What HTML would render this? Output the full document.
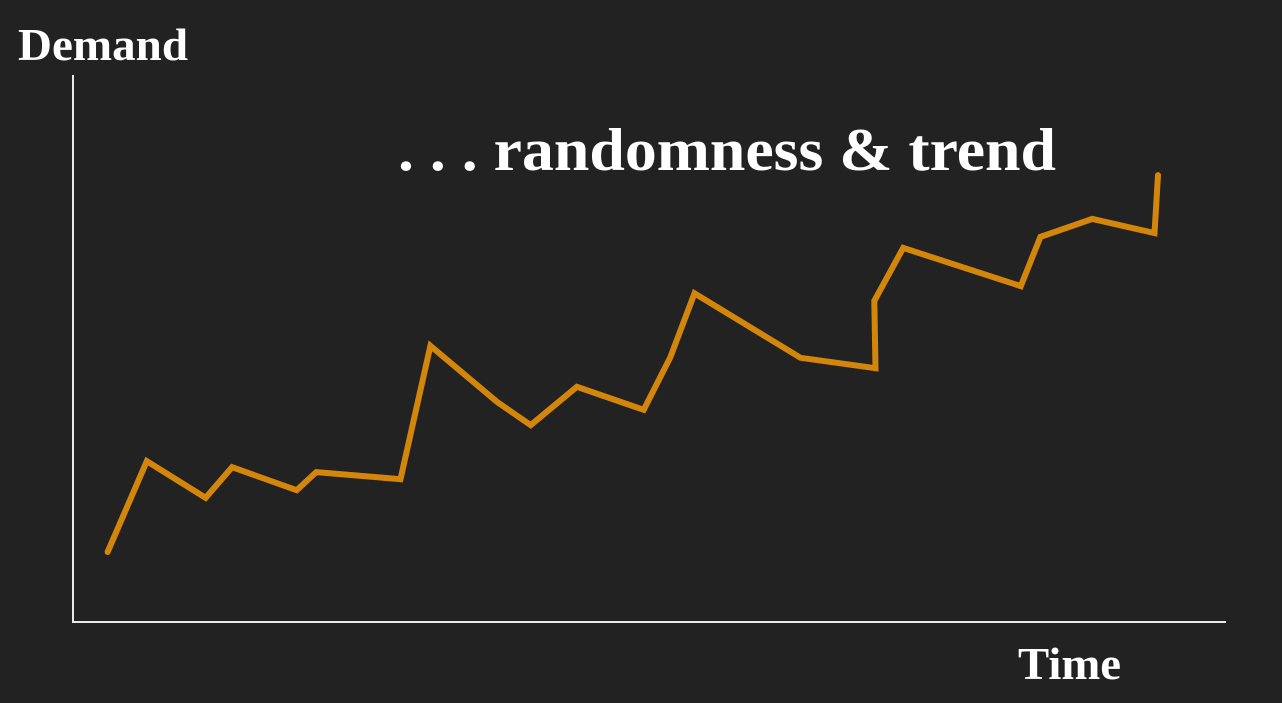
<!DOCTYPE html>
<html><head><meta charset="utf-8"><style>
html,body{margin:0;padding:0;background:#222222;}
svg{display:block;}
text{font-family:"Liberation Serif",serif;font-weight:bold;fill:#ffffff;}
</style></head><body>
<svg id="chart" width="1282" height="703">
<rect width="1282" height="703" fill="#222222"/>
<line x1="73" y1="75" x2="73" y2="622" stroke="#e8e8e8" stroke-width="2"/>
<line x1="72" y1="622" x2="1226" y2="622" stroke="#e8e8e8" stroke-width="2"/>
<text x="18" y="60" font-size="45" textLength="170" lengthAdjust="spacingAndGlyphs">Demand</text>
<text x="1018" y="679" font-size="45" textLength="103" lengthAdjust="spacingAndGlyphs">Time</text>
<text x="398" y="170" font-size="60" textLength="658" lengthAdjust="spacingAndGlyphs">. . . randomness &amp; trend</text>
<g id="series"></g>
</svg>
<script>
const times = [3.0,6.4,11.5,13.8,19.4,21.1,28.4,31.0,36.8,39.7,43.7,49.5,51.8,53.9,63.1,69.6,69.5,72.0,82.2,83.9,88.4,93.8,94.1];
const demand = [12.8,29.4,22.7,28.3,24.1,27.4,26.1,50.5,40.2,36.0,43.0,38.8,48.4,60.1,48.3,46.4,58.7,68.4,61.4,70.4,73.7,71.1,81.7];
function xScale(t){return 73 + t*11.53;}
function yScale(d){return 622 - d*5.47;}
const pts = times.map((t,i)=>xScale(t).toFixed(1)+','+yScale(demand[i]).toFixed(1)).join(' ');
const pl = document.createElementNS('http://www.w3.org/2000/svg','polyline');
pl.setAttribute('points', pts);
pl.setAttribute('fill','none');
pl.setAttribute('stroke','#d4860b');
pl.setAttribute('stroke-width','6');
pl.setAttribute('stroke-linejoin','miter');
pl.setAttribute('stroke-linecap','round');


document.getElementById('series').appendChild(pl);
</script>
</body></html>
